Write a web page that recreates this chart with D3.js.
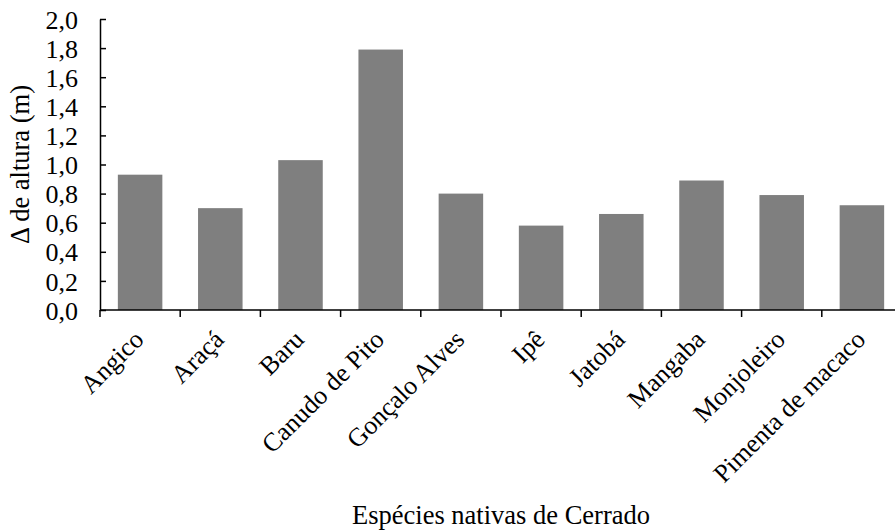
<!DOCTYPE html>
<html>
<head>
<meta charset="utf-8">
<script src="https://cdn.jsdelivr.net/npm/d3@7"></script>
<style>
  html, body { margin: 0; padding: 0; background: #fff; }
  svg { display: block; }
</style>
</head>
<body>
<svg id="chart" width="895" height="532"></svg>
<script>
const categories = ["Angico", "Araçá", "Baru", "Canudo de Pito", "Gonçalo Alves", "Ipê", "Jatobá", "Mangaba", "Monjoleiro", "Pimenta de macaco"];
const values = [0.93, 0.70, 1.03, 1.79, 0.80, 0.58, 0.66, 0.89, 0.79, 0.72];
const yTicks = [0, 0.2, 0.4, 0.6, 0.8, 1.0, 1.2, 1.4, 1.6, 1.8, 2.0];
const yTitle = "Δ de altura (m)";
const xTitle = "Espécies nativas de Cerrado";

const FONT = '"Liberation Serif", "Times New Roman", serif';
const svg = d3.select("#chart");
const mLeft = 100, mRight = 902, mTop = 19, mBottom = 310;
const fs = 26;

const x = d3.scaleBand().domain(categories).range([mLeft, mRight]).paddingInner(0.445).paddingOuter(0.2225);
const y = d3.scaleLinear().domain([0, 2]).range([mBottom, mTop]);

const step = x.step();
const half = (step - x.bandwidth()) / 2;

// bars
svg.append("g").selectAll("rect").data(categories).join("rect")
  .attr("x", d => x(d))
  .attr("width", x.bandwidth())
  .attr("y", (d, i) => y(values[i]))
  .attr("height", (d, i) => y(0) - y(values[i]))
  .attr("fill", "#7f7f7f");

// y axis
const yAxis = d3.axisLeft(y).tickValues(yTicks)
  .tickFormat(d => d3.format(".1f")(d).replace(".", ","))
  .tickSizeInner(-6).tickSizeOuter(0).tickPadding(22);
const gy = svg.append("g").attr("transform", `translate(${mLeft},0)`).call(yAxis);
gy.select(".domain").attr("stroke", "#000").attr("stroke-width", 1.5);
gy.selectAll(".tick line").attr("stroke", "#000").attr("stroke-width", 1.5);
gy.selectAll(".tick text").style("font-size", fs + "px").style("font-family", FONT).attr("fill", "#000").attr("dy", "0.35em");

// x axis line and boundary ticks
const gx = svg.append("g");
gx.append("line").attr("x1", mLeft).attr("x2", mRight).attr("y1", y(0)).attr("y2", y(0))
  .attr("stroke", "#000").attr("stroke-width", 1.5);
const bounds = categories.map(c => x(c) - half).concat([x(categories[categories.length - 1]) + x.bandwidth() + half]);
gx.selectAll("line.t").data(bounds).join("line").attr("class", "t")
  .attr("x1", d => d).attr("x2", d => d).attr("y1", y(0)).attr("y2", y(0) + 7)
  .attr("stroke", "#000").attr("stroke-width", 1.5);

// category labels
gx.selectAll("text.cat").data(categories).join("text").attr("class", "cat")
  .attr("text-anchor", "end")
  .style("font-size", fs + "px").style("font-family", FONT)
  .attr("transform", d => `translate(${x(d) + x.bandwidth() / 2 + 5},${y(0) + 31}) rotate(-45)`)
  .text(d => d);

// titles
svg.append("text").attr("text-anchor", "middle")
  .style("font-size", "26.5px").style("font-family", FONT)
  .attr("transform", `translate(${(mLeft + mRight) / 2},${524})`).text(xTitle);
svg.append("text").attr("text-anchor", "middle")
  .style("font-size", "26.5px").style("font-family", FONT)
  .attr("transform", `translate(${28.5},${(mTop + mBottom) / 2}) rotate(-90)`).text(yTitle);
</script>
</body>
</html>
